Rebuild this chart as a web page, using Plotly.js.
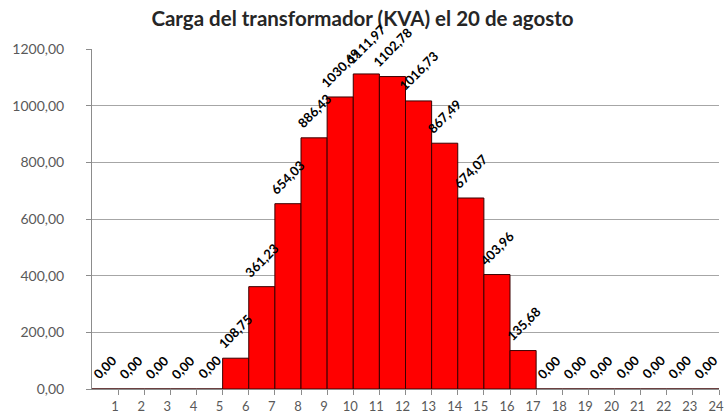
<!DOCTYPE html>
<html>
<head>
<meta charset="utf-8">
<script src="https://cdn.plot.ly/plotly-3.0.1.min.js"></script>
<style>html,body{margin:0;padding:0;background:#fff;}#chart{width:725px;height:419px;}</style>
</head>
<body>
<div id="chart"></div>
<script>
// Hours of the day (1..24)
const hours = [1,2,3,4,5,6,7,8,9,10,11,12,13,14,15,16,17,18,19,20,21,22,23,24];
// Transformer load in KVA for each hour
const loadKVA = [0,0,0,0,0,108.75,361.23,654.03,886.43,1030.69,1111.97,1102.78,1016.73,867.49,674.07,403.96,135.68,0,0,0,0,0,0,0];
// Y tick values
const yTicks = [0,200,400,600,800,1000,1200];

const fmt = v => v.toFixed(2).replace('.', ',');
// bars span hour-1 .. hour
const barX = hours.map(h => h - 0.5);

const trace = {
  type: 'bar',
  x: barX,
  y: loadKVA,
  width: 1,
  marker: {color: '#FF0000', line: {color: '#3a0000', width: 1}},
  hoverinfo: 'x+y'
};

const labels = loadKVA.map((v, i) => ({
  x: barX[i], y: v, xref: 'x', yref: 'y',
  text: fmt(v),
  textangle: -45,
  showarrow: false,
  xanchor: 'center', yanchor: 'bottom',
  yshift: 4,
  font: {family: 'Lato, sans-serif', size: 13, color: '#000', weight: 'bold'}
}));

const layout = {
  width: 725, height: 419,
  margin: {l: 92, r: 6, t: 49, b: 30},
  paper_bgcolor: '#fff', plot_bgcolor: '#fff',
  showlegend: false,
  bargap: 0,
  font: {family: 'Lato, sans-serif'},
  title: {
    text: '<b>Carga del transformador (KVA) el 20 de agosto</b>',
    font: {family: 'Lato, sans-serif', size: 20.5, color: '#262626'},
    x: 0.5, xref: 'container', xanchor: 'center',
    y: 0.955, yref: 'container', yanchor: 'middle'
  },
  annotations: labels,
  xaxis: {
    range: [0, 24],
    tickvals: hours,
    ticktext: hours.map(String),
    ticks: 'outside', ticklen: 5, tickcolor: '#8c8c8c',
    ticklabeloverflow: 'allow',
    ticklabelshift: -3,
    showgrid: false, zeroline: false,
    showline: true, linecolor: '#8c8c8c', linewidth: 1,
    tickfont: {family: 'Lato, sans-serif', size: 13, color: '#595959'},
    fixedrange: true
  },
  yaxis: {
    range: [0, 1200],
    tickvals: yTicks,
    ticktext: yTicks.map(fmt),
    ticks: 'outside', ticklen: 5, tickcolor: '#8c8c8c',
    showgrid: true, gridcolor: '#a6a6a6', gridwidth: 1,
    zeroline: false,
    showline: true, linecolor: '#8c8c8c', linewidth: 1,
    tickfont: {family: 'Lato, sans-serif', size: 14, color: '#595959'},
    ticklabelstandoff: 19,
    fixedrange: true
  }
};

Plotly.newPlot('chart', [trace], layout, {displayModeBar: false, staticPlot: true});
</script>
</body>
</html>
